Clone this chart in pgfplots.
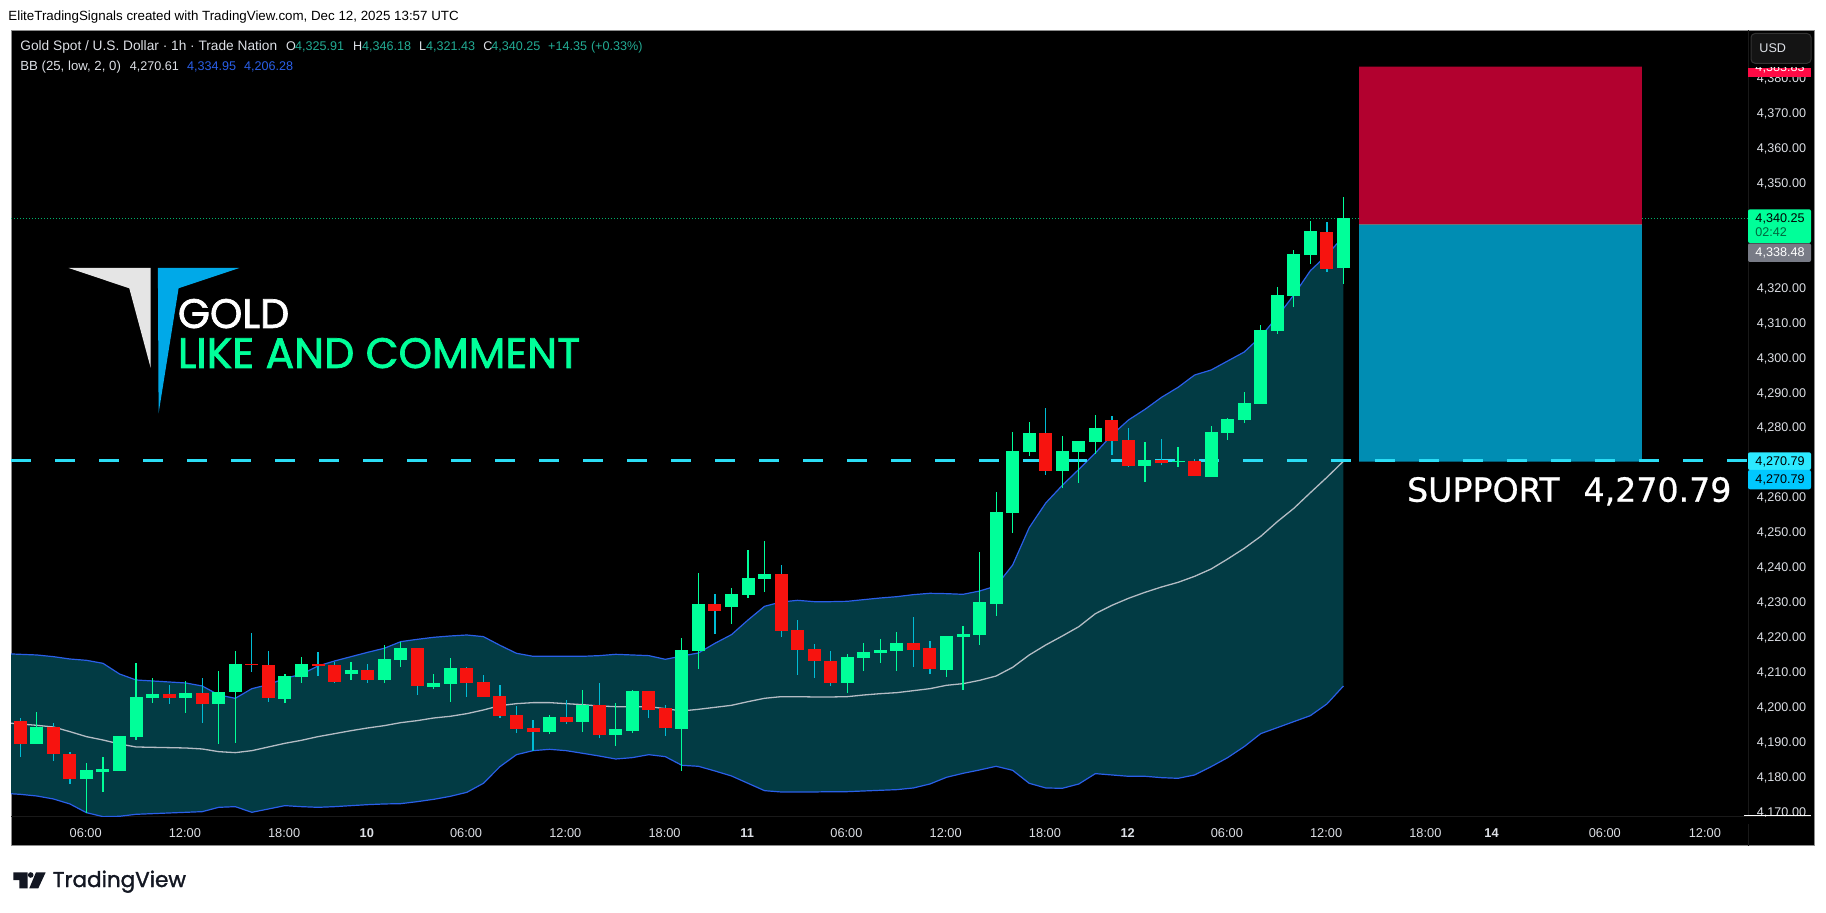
\documentclass[border=0pt]{standalone}
\usepackage{fontspec}
\setmainfont{Liberation Sans}
\newfontfamily\popf[FakeBold=1.6]{Poppins}
\newfontfamily\tvf[FakeBold=1.5]{Poppins}
\newfontfamily\supf[FakeBold=0.7]{DejaVu Sans}
\usepackage{pgfplots}
\usepackage{pgfplotstable}
\pgfplotsset{compat=1.18}
\definecolor{bull}{HTML}{00FF99}
\definecolor{bear}{HTML}{F7130F}
\definecolor{bearwick}{HTML}{00BCD4}
\definecolor{bandc}{HTML}{023B44}
\definecolor{bbblue}{HTML}{2A5FE8}
\definecolor{bbgrey}{HTML}{B4BCC4}
\definecolor{supc}{HTML}{2BDDF5}
\definecolor{lab}{HTML}{DDE0E6}
\definecolor{tealv}{HTML}{22AB94}
\definecolor{posred}{HTML}{B2012F}
\definecolor{posblue}{HTML}{008DB3}
\definecolor{posline}{HTML}{70707A}
\definecolor{tagred}{HTML}{FF0A45}
\definecolor{taggrey}{HTML}{787B86}
\definecolor{tagc}{HTML}{2CE9FF}
\definecolor{tagd}{HTML}{00C8FF}
\definecolor{logob}{HTML}{00A9E8}
\definecolor{tvc}{HTML}{131722}
\pgfplotstableread{
i o h l c
1 4189.77 4198.84 4189.77 4194.54
4 4179.66 4184.24 4169.83 4182.24
5 4181.66 4185.96 4175.94 4182.52
6 4181.95 4191.97 4181.95 4191.97
7 4191.68 4212.86 4190.82 4203.13
8 4202.84 4208.57 4201.41 4203.99
10 4202.84 4207.71 4198.55 4204.27
12 4201.13 4210.57 4189.68 4204.56
13 4204.56 4216.29 4189.96 4212.57
16 4202.56 4209.71 4201.41 4209.14
17 4208.85 4214.58 4207.14 4212.57
20 4209.71 4213.15 4207.99 4210.86
22 4207.99 4218.01 4207.14 4214.00
23 4213.72 4218.87 4211.71 4217.15
25 4205.99 4209.71 4205.42 4207.14
26 4206.85 4214.29 4201.70 4211.43
32 4193.11 4197.98 4192.54 4197.41
34 4195.97 4205.13 4193.11 4200.84
36 4192.25 4201.41 4189.10 4193.97
37 4193.40 4205.13 4192.83 4204.85
40 4193.97 4220.01 4181.95 4216.58
41 4216.29 4238.62 4211.14 4229.75
43 4228.89 4234.32 4224.02 4232.61
44 4232.32 4245.20 4231.46 4237.19
45 4236.90 4247.78 4233.18 4238.33
50 4207.14 4215.44 4204.27 4214.58
51 4214.29 4218.58 4210.57 4216.01
52 4215.72 4219.73 4212.86 4216.58
53 4216.29 4221.73 4210.57 4218.58
56 4210.86 4220.59 4208.85 4220.59
57 4220.30 4223.44 4205.13 4221.16
58 4220.87 4244.62 4218.01 4230.31
59 4229.74 4261.80 4226.31 4256.07
60 4255.79 4278.97 4250.06 4273.53
61 4273.24 4281.83 4272.10 4278.68
63 4267.81 4277.82 4262.94 4273.53
64 4273.24 4276.39 4264.37 4276.39
65 4276.11 4283.83 4272.67 4280.11
68 4269.24 4276.11 4264.66 4270.95
70 4270.38 4274.67 4268.95 4270.67
72 4266.09 4280.68 4266.09 4278.97
73 4278.68 4282.97 4276.68 4282.69
74 4282.40 4290.42 4281.54 4287.27
75 4286.98 4309.59 4286.98 4308.16
76 4307.87 4320.47 4307.02 4318.18
77 4317.89 4331.06 4314.74 4329.91
78 4329.62 4339.36 4327.05 4336.49
80 4325.91 4346.18 4321.43 4340.25
}\greencandles
\pgfplotstableread{
i o h l c
0 4196.26 4197.12 4186.05 4189.77
2 4194.54 4195.69 4184.81 4186.91
3 4186.91 4187.39 4178.23 4179.66
9 4203.99 4206.56 4201.13 4202.84
11 4204.27 4208.57 4195.69 4201.13
14 4212.57 4221.45 4210.28 4212.29
15 4212.29 4216.29 4201.70 4202.84
18 4212.57 4216.01 4209.14 4212.00
19 4212.29 4213.15 4207.14 4207.42
21 4210.86 4212.57 4207.14 4207.99
24 4217.15 4217.15 4203.70 4206.28
27 4211.43 4211.71 4203.13 4207.14
28 4207.42 4209.42 4203.13 4203.13
29 4203.41 4206.56 4197.12 4197.69
30 4197.98 4200.55 4192.83 4193.97
31 4194.26 4196.55 4187.67 4193.11
33 4197.41 4202.27 4195.40 4195.97
35 4200.84 4207.14 4191.39 4192.25
38 4204.85 4204.85 4197.12 4199.41
39 4199.98 4200.84 4191.97 4194.26
42 4229.75 4232.61 4221.16 4227.74
46 4238.33 4240.91 4220.30 4222.02
47 4222.30 4225.17 4209.42 4216.58
48 4216.87 4218.30 4208.57 4213.43
49 4213.43 4216.29 4206.28 4207.14
54 4218.58 4226.02 4211.71 4216.58
55 4217.15 4219.16 4209.71 4211.14
62 4278.68 4285.84 4266.66 4267.81
66 4282.40 4283.55 4272.38 4276.39
67 4276.68 4280.11 4268.95 4269.24
69 4270.95 4276.96 4269.52 4270.10
71 4270.67 4271.24 4266.37 4266.37
79 4336.21 4339.07 4324.76 4325.62
}\redcandles
\pgfplotstableread{
i up mid lo
-1 4215.53 4195.78 4175.56
0 4215.34 4195.40 4175.27
1 4215.15 4195.02 4174.79
2 4214.67 4194.54 4173.94
3 4214.00 4193.21 4172.51
4 4213.62 4191.78 4170.02
5 4212.76 4190.82 4168.88
6 4209.71 4189.68 4168.98
7 4207.99 4188.82 4169.55
8 4207.71 4188.72 4169.74
9 4207.42 4188.63 4169.93
10 4207.14 4188.53 4170.12
11 4206.28 4188.25 4170.31
12 4203.70 4187.48 4171.55
13 4202.75 4187.20 4171.74
14 4205.51 4187.77 4170.12
15 4206.66 4188.82 4171.07
16 4208.47 4189.87 4172.03
17 4209.62 4190.73 4171.74
18 4212.00 4191.78 4171.55
19 4213.43 4192.63 4171.74
20 4214.67 4193.49 4172.03
21 4215.91 4194.26 4172.31
22 4217.06 4194.92 4172.51
23 4218.96 4195.78 4172.60
24 4219.63 4196.36 4173.17
25 4220.21 4197.12 4173.84
26 4220.59 4197.60 4174.70
27 4220.87 4198.36 4175.84
28 4220.40 4199.41 4178.42
29 4217.92 4200.65 4183.19
30 4215.63 4201.22 4186.62
31 4214.77 4201.51 4187.77
32 4214.77 4201.51 4188.15
33 4214.77 4201.22 4187.77
34 4214.77 4200.93 4187.01
35 4214.96 4200.55 4186.24
36 4215.34 4200.36 4185.38
37 4215.15 4200.36 4185.77
38 4214.96 4200.36 4186.62
39 4213.91 4199.79 4186.05
40 4214.86 4199.12 4183.57
41 4215.72 4199.60 4183.29
42 4218.49 4200.17 4181.95
43 4220.97 4200.74 4180.52
44 4225.17 4201.79 4178.42
45 4229.08 4202.75 4176.32
46 4230.32 4203.22 4175.94
47 4230.79 4203.22 4175.94
48 4230.41 4203.13 4175.94
49 4230.41 4203.13 4176.03
50 4230.51 4203.22 4176.03
51 4230.99 4203.70 4176.23
52 4231.46 4204.08 4176.42
53 4231.84 4204.37 4176.61
54 4232.42 4204.94 4177.09
55 4232.80 4205.51 4178.23
56 4232.70 4206.47 4180.14
57 4232.51 4206.94 4181.28
58 4233.46 4207.89 4182.24
59 4234.89 4209.13 4183.29
60 4240.90 4211.62 4182.14
61 4251.59 4215.14 4178.42
62 4258.65 4218.01 4177.09
63 4263.70 4220.58 4176.99
64 4268.28 4223.25 4178.23
65 4272.96 4226.97 4181.19
66 4278.11 4229.36 4180.81
67 4282.40 4231.36 4180.43
68 4285.45 4233.08 4180.43
69 4288.89 4234.61 4180.04
70 4291.75 4235.94 4179.85
71 4295.28 4237.66 4180.81
72 4296.71 4239.76 4183.19
73 4299.29 4242.62 4185.77
74 4301.86 4245.67 4188.92
75 4306.25 4249.11 4192.64
76 4311.98 4253.30 4194.35
77 4318.18 4257.12 4196.07
78 4325.14 4261.60 4197.79
79 4329.62 4265.99 4201.13
80 4334.95 4270.61 4206.28
}\bollinger
\begin{document}
\begin{tikzpicture}
\useasboundingbox (0pt,0pt) rectangle (913pt,-456.5pt);
\begin{scope}[x=0.5pt,y=-0.5pt]
\fill[white] (0,0) rectangle (1826,913);
\filldraw[fill=black,draw=black!45,line width=0.5pt] (11,30.5) rectangle (1814,846);
\draw[black!90!white,line width=0.5pt] (1748,30.5) -- (1748,846);
\draw[black!90!white,line width=0.5pt] (11,817) -- (1811,817);
\end{scope}
\begin{axis}[
  at={(5.5pt,-408.5pt)}, anchor=south west,
  width=868.5pt, height=393.5pt, scale only axis,
  xmin=-0.562, xmax=104.46, ymin=4168.78, ymax=4394.02,
  axis line style={draw=none}, major tick length=0pt,
  yticklabel pos=right,
  ytick={4170,4180,4190,4200,4210,4220,4230,4240,4250,4260,4280,4290,4300,4310,4320,4350,4360,4370,4380},
  scaled y ticks=false,
  yticklabel style={/pgf/number format/.cd,fixed,fixed zerofill,precision=2,1000 sep={,},assume math mode=true,
    /tikz/.cd,anchor=east,xshift=29.2pt,font=\fontsize{6.3pt}{7pt}\selectfont,text=lab,inner sep=0pt},
  xtick={4,10,16,21,27,33,39,44,50,56,62,67,73,79,85,89,95.85,101.9},
  xticklabels={06:00,12:00,18:00,\textbf{10},06:00,12:00,18:00,\textbf{11},06:00,12:00,18:00,\textbf{12},06:00,12:00,18:00,\textbf{14},06:00,12:00},
  xticklabel style={anchor=center,yshift=-8pt,xshift=-0.4pt,font=\fontsize{6.4pt}{7pt}\selectfont,text=lab,inner sep=0pt},
]
% position box
\addplot[fill=posblue,draw=none,forget plot] coordinates {(80.94,4270.5)(98.05,4270.5)(98.05,4338.48)(80.94,4338.48)(80.94,4270.5)};
\addplot[fill=posred,draw=none,forget plot] coordinates {(80.94,4338.48)(98.05,4338.48)(98.05,4383.5)(80.94,4383.5)(80.94,4338.48)};
\addplot[posline,line width=0.5pt,forget plot] coordinates {(80.94,4338.48)(98.05,4338.48)};
% bollinger band area
\addplot[fill=bandc,draw=none,forget plot] coordinates {
(-1,4215.53)(0,4215.34)(1,4215.15)(2,4214.67)(3,4214.00)(4,4213.62)(5,4212.76)(6,4209.71)(7,4207.99)(8,4207.71)(9,4207.42)(10,4207.14)(11,4206.28)(12,4203.70)(13,4202.75)(14,4205.51)(15,4206.66)(16,4208.47)(17,4209.62)(18,4212.00)(19,4213.43)(20,4214.67)(21,4215.91)(22,4217.06)(23,4218.96)(24,4219.63)(25,4220.21)(26,4220.59)(27,4220.87)(28,4220.40)(29,4217.92)(30,4215.63)(31,4214.77)(32,4214.77)(33,4214.77)(34,4214.77)(35,4214.96)(36,4215.34)(37,4215.15)(38,4214.96)(39,4213.91)(40,4214.86)(41,4215.72)(42,4218.49)(43,4220.97)(44,4225.17)(45,4229.08)(46,4230.32)(47,4230.79)(48,4230.41)(49,4230.41)(50,4230.51)(51,4230.99)(52,4231.46)(53,4231.84)(54,4232.42)(55,4232.80)(56,4232.70)(57,4232.51)(58,4233.46)(59,4234.89)(60,4240.90)(61,4251.59)(62,4258.65)(63,4263.70)(64,4268.28)(65,4272.96)(66,4278.11)(67,4282.40)(68,4285.45)(69,4288.89)(70,4291.75)(71,4295.28)(72,4296.71)(73,4299.29)(74,4301.86)(75,4306.25)(76,4311.98)(77,4318.18)(78,4325.14)(79,4329.62)(80,4334.95)
(80,4206.28)(79,4201.13)(78,4197.79)(77,4196.07)(76,4194.35)(75,4192.64)(74,4188.92)(73,4185.77)(72,4183.19)(71,4180.81)(70,4179.85)(69,4180.04)(68,4180.43)(67,4180.43)(66,4180.81)(65,4181.19)(64,4178.23)(63,4176.99)(62,4177.09)(61,4178.42)(60,4182.14)(59,4183.29)(58,4182.24)(57,4181.28)(56,4180.14)(55,4178.23)(54,4177.09)(53,4176.61)(52,4176.42)(51,4176.23)(50,4176.03)(49,4176.03)(48,4175.94)(47,4175.94)(46,4175.94)(45,4176.32)(44,4178.42)(43,4180.52)(42,4181.95)(41,4183.29)(40,4183.57)(39,4186.05)(38,4186.62)(37,4185.77)(36,4185.38)(35,4186.24)(34,4187.01)(33,4187.77)(32,4188.15)(31,4187.77)(30,4186.62)(29,4183.19)(28,4178.42)(27,4175.84)(26,4174.70)(25,4173.84)(24,4173.17)(23,4172.60)(22,4172.51)(21,4172.31)(20,4172.03)(19,4171.74)(18,4171.55)(17,4171.74)(16,4172.03)(15,4171.07)(14,4170.12)(13,4171.74)(12,4171.55)(11,4170.31)(10,4170.12)(9,4169.93)(8,4169.74)(7,4169.55)(6,4168.98)(5,4168.88)(4,4170.02)(3,4172.51)(2,4173.94)(1,4174.79)(0,4175.27)(-1,4175.56)(-1,4215.53)};
% bollinger lines
\addplot[bbblue,line width=0.6pt,forget plot] table[x=i,y=up] {\bollinger};
\addplot[bbblue,line width=0.6pt,forget plot] table[x=i,y=lo] {\bollinger};
\addplot[bbgrey,line width=0.65pt,forget plot] table[x=i,y=mid] {\bollinger};
% price lines
\addplot[bull!70!black,line width=0.35pt,dash pattern=on 0.4pt off 1.1pt,forget plot] coordinates {(-0.562,4340.25)(80.94,4340.25)};
\addplot[bull!70!black,line width=0.35pt,dash pattern=on 0.4pt off 1.1pt,forget plot] coordinates {(98.05,4340.25)(104.46,4340.25)};
\addplot[supc,line width=1.75pt,dash pattern=on 10pt off 12pt,forget plot] coordinates {(-0.562,4270.79)(104.46,4270.79)};
% wicks
\addplot[draw=none,forget plot,error bars/.cd,y dir=plus,y explicit,error mark=none,error bar style={draw=bull,line width=0.6pt,solid}]
  table[x=i,y=l,y error expr=\thisrow{h}-\thisrow{l}] {\greencandles};
\addplot[draw=none,forget plot,error bars/.cd,y dir=plus,y explicit,error mark=none,error bar style={draw=bearwick,line width=0.6pt,solid}]
  table[x=i,y=l,y error expr=\thisrow{h}-\thisrow{l}] {\redcandles};
% bodies
\addplot[draw=none,forget plot,error bars/.cd,y dir=plus,y explicit,error mark=none,error bar style={draw=bull,line width=6.5pt,solid}]
  table[x=i,y=o,y error expr=\thisrow{c}-\thisrow{o}] {\greencandles};
\addplot[draw=none,forget plot,error bars/.cd,y dir=plus,y explicit,error mark=none,error bar style={draw=bear,line width=6.5pt,solid}]
  table[x=i,y=c,y error expr=\thisrow{o}-\thisrow{c}] {\redcandles};
\end{axis}
\begin{scope}[x=0.5pt,y=-0.5pt,every node/.style={inner sep=0pt,font=\fontsize{6.3pt}{7pt}\selectfont}]
% header
\node[anchor=base west,text=black] at (8,20.8) {\fontsize{6.67pt}{7pt}\selectfont EliteTradingSignals created with TradingView.com, Dec 12, 2025 13:57 UTC};
\node[anchor=base west,text=lab] at (20,51) {\fontsize{6.85pt}{7pt}\selectfont Gold Spot / U.S. Dollar · 1h · Trade Nation};
\node[anchor=base west,text=lab] at (285.7,51) {O};
\node[anchor=base west,text=tealv] at (294.6,51) {4,325.91};
\node[anchor=base west,text=lab] at (352.7,51) {H};
\node[anchor=base west,text=tealv] at (361.6,51) {4,346.18};
\node[anchor=base west,text=lab] at (418.7,51) {L};
\node[anchor=base west,text=tealv] at (425.6,51) {4,321.43};
\node[anchor=base west,text=lab] at (483,51) {C};
\node[anchor=base west,text=tealv] at (491,51) {4,340.25};
\node[anchor=base west,text=tealv] at (547.8,51) {+14.35};
\node[anchor=base west,text=tealv] at (590.6,51) {(+0.33\%)};
\node[anchor=base west,text=lab] at (20,70.4) {\fontsize{6.6pt}{7pt}\selectfont BB (25, low, 2, 0)};
\node[anchor=base west,text=lab] at (129.5,70.4) {4,270.61};
\node[anchor=base west,text=bbblue] at (186.6,70.4) {4,334.95};
\node[anchor=base west,text=bbblue] at (243.7,70.4) {4,206.28};
% logo
\fill[black!10] (68.6,268) -- (150.7,268) -- (150.7,368) -- (129.3,288.3) -- cycle;
\fill[logob] (157.9,268) -- (239.3,268) -- (178.6,288.3) -- (158.6,413.3) -- cycle;
\node[anchor=base west,text=white] at (177.5,328) {\popf\fontsize{20.6pt}{22pt}\selectfont GOLD};
\node[anchor=base west,text=bull] at (177.5,368) {\popf\fontsize{21.3pt}{22pt}\selectfont LIKE AND COMMENT};
% support
\node[anchor=base west,text=white] at (1406.7,501.7) {\supf\fontsize{16.6pt}{18pt}\selectfont SUPPORT\hspace{12pt}4,270.79};
% USD
\filldraw[fill=black!92!white,draw=black!80!white,rounded corners=2pt,line width=0.5pt] (1751,33.5) rectangle (1811,63.3);
\node[anchor=base,text=lab] at (1772.7,53) {USD};
% price tags
\begin{scope}
\clip (1748,67.7) rectangle (1811,76.7);
\fill[tagred] (1748,67.7) rectangle (1811,76.7);
\node[anchor=base,text=white] at (1780,71.5) {4,383.83};
\end{scope}
\fill[bull,rounded corners=1pt] (1748,209.3) rectangle (1811,243);
\node[anchor=base,text=black] at (1780,222.5) {4,340.25};
\node[anchor=base,text=black!60!bull] at (1771,237) {02:42};
\fill[taggrey,rounded corners=1pt] (1748,243.3) rectangle (1811,262);
\node[anchor=base,text=white] at (1780,257) {4,338.48};
\fill[tagc,rounded corners=1pt] (1748,452.3) rectangle (1811,470);
\node[anchor=base,text=black] at (1780,465.2) {4,270.79};
\fill[tagd,rounded corners=1pt] (1748,470) rectangle (1811,489.3);
\node[anchor=base,text=black] at (1780,483.5) {4,270.79};
% scale corner
\fill[black] (1744,817) rectangle (1811,824);
\draw[white,line width=0.5pt] (1744,816) -- (1811,816);
% TradingView mark
\fill[tvc] (13.3,872.3) -- (27.7,872.3) -- (27.7,888.3) -- (19.3,888.3) -- (19.3,880) -- (13.3,880) -- cycle;
\fill[tvc] (30.7,875) circle (2.8);
\fill[tvc] (36,872.3) -- (45.7,872.3) -- (38.3,888.3) -- (29.3,888.3) -- cycle;
\node[anchor=base west,text=tvc] at (52.5,887) {\tvf\fontsize{10.75pt}{12pt}\selectfont TradingView};
\end{scope}
\end{tikzpicture}
\end{document}
